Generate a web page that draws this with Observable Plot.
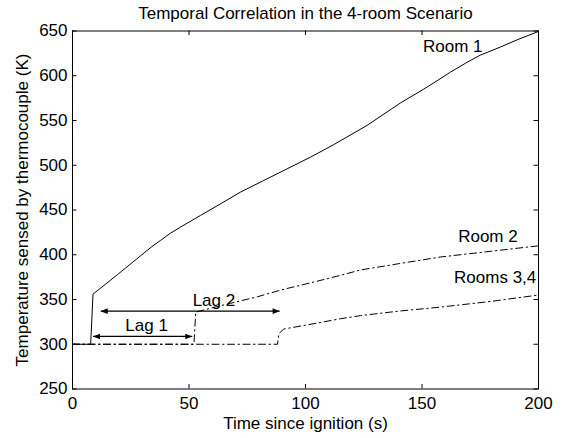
<!DOCTYPE html>
<html><head><meta charset="utf-8">
<script src="https://cdn.jsdelivr.net/npm/d3@7"></script>
<script src="https://cdn.jsdelivr.net/npm/@observablehq/plot@0.6"></script>
<style>html,body{margin:0;padding:0;background:#fff;} svg{display:block;}</style>
</head><body><div id="chart"></div>
<script>
const titleText = "Temporal Correlation in the 4-room Scenario";
const xLabel = "Time since ignition (s)";
const yLabel = "Temperature sensed by thermocouple (K)";
const xTicks = [0, 50, 100, 150, 200];
const yTicks = [250, 300, 350, 400, 450, 500, 550, 600, 650];

const room1Time = [0, 7.8, 8.8, 19.3, 29.3, 34, 37.8, 42, 46.4, 55, 63.6, 72.1, 82.1, 92.1, 102.1, 112.1, 126.4, 140.7, 150.7, 155, 162.2, 169.3, 175, 183.6, 190.7, 200];
const room1Temp = [300, 300, 356, 377.8, 399, 409, 416, 424, 431, 444, 457, 470, 483, 496, 509, 523, 544.5, 569.5, 585, 592, 604, 615, 623, 632, 640, 649.5];

const room2Time = [0, 52.1, 52.9, 65, 79.3, 90, 103.6, 115, 123.6, 140, 158, 180, 200];
const room2Temp = [300, 300, 336, 344, 353, 361, 369.5, 377, 383, 390, 397.5, 404, 410];

const room34Time = [0, 88, 88.6, 90.7, 103.6, 115, 123.6, 140, 158, 180, 200];
const room34Temp = [300, 300, 312, 317, 323, 328.5, 332, 337, 341.5, 348, 355];

const roomLabels = ["Room 1", "Room 2", "Rooms 3,4"];
const roomLabelTime = [163.2, 178.3, 181.4];
const roomLabelTemp = [633, 420.6, 374];

const lagLabels = ["Lag 1", "Lag 2"];
const lagStart = [8.8, 12.1];
const lagEnd = [51.4, 88.9];
const lagLevel = [308.7, 337];
const lagLabelTime = [31.8, 60.7];
const lagLabelTemp = [321, 349];

const W = 563, H = 438, mL = 72, mR = 25, mT = 30.5, mB = 49.5;
const fw = W - mL - mR, fh = H - mT - mB, tick = 4.5;
const font = 17;
const dashDot = "7,3.5,1.5,3.5";

const rows = (ts, vs) => ts.map((t, i) => ({t, v: vs[i]}));
const room1 = rows(room1Time, room1Temp);
const room2 = rows(room2Time, room2Temp);
const room34 = rows(room34Time, room34Temp);
const roomText = roomLabels.map((s, i) => ({s, t: roomLabelTime[i], v: roomLabelTemp[i]}));
const lags = lagLabels.map((s, i) => ({s, a: lagStart[i], b: lagEnd[i], v: lagLevel[i], lt: lagLabelTime[i], lv: lagLabelTemp[i]}));

const triRight = {draw(ctx) { ctx.moveTo(0, 0); ctx.lineTo(-7, -2.8); ctx.lineTo(-7, 2.8); ctx.closePath(); }};
const triLeft = {draw(ctx) { ctx.moveTo(0, 0); ctx.lineTo(7, -2.8); ctx.lineTo(7, 2.8); ctx.closePath(); }};

const chart = Plot.plot({
  width: W, height: H,
  marginLeft: mL, marginRight: mR, marginTop: mT, marginBottom: mB,
  x: {domain: [0, 200], axis: null},
  y: {domain: [250, 650], axis: null},
  style: {fontFamily: "'Liberation Sans', Arial, Helvetica, sans-serif", fontSize: font + "px", background: "white", color: "black"},
  marks: [
    Plot.frame({stroke: "black", strokeWidth: 1}),
    Plot.tickX(xTicks, {x: d => d, stroke: "black", insetTop: fh - tick}),
    Plot.tickX(xTicks, {x: d => d, stroke: "black", insetBottom: fh - tick}),
    Plot.tickY(yTicks, {y: d => d, stroke: "black", insetRight: fw - tick}),
    Plot.tickY(yTicks, {y: d => d, stroke: "black", insetLeft: fw - tick}),
    Plot.text(xTicks, {x: d => d, text: d => String(d), frameAnchor: "bottom", dy: 14.5, lineAnchor: "middle", fontSize: font, fill: "black"}),
    Plot.text(yTicks, {y: d => d, text: d => String(d), frameAnchor: "left", textAnchor: "end", dx: -5, lineAnchor: "middle", fontSize: font, fill: "black"}),
    Plot.text([xLabel], {text: d => d, frameAnchor: "bottom", dy: 34.5, lineAnchor: "middle", fontSize: font, fill: "black"}),
    Plot.text([yLabel], {text: d => d, frameAnchor: "left", textAnchor: "middle", dx: -50, rotate: -90, lineAnchor: "middle", fontSize: font, fill: "black"}),
    Plot.text([titleText], {text: d => d, frameAnchor: "top", dy: -17.5, lineAnchor: "middle", fontSize: font, fill: "black"}),
    Plot.line(room34, {x: "t", y: "v", stroke: "black", strokeWidth: 1, strokeDasharray: dashDot}),
    Plot.line(room2, {x: "t", y: "v", stroke: "black", strokeWidth: 1, strokeDasharray: dashDot}),
    Plot.line(room1, {x: "t", y: "v", stroke: "black", strokeWidth: 1}),
    Plot.link(lags, {x1: "a", x2: "b", y1: "v", y2: "v", stroke: "black", strokeWidth: 1.2}),
    Plot.dot(lags, {x: "b", y: "v", symbol: triRight, fill: "black", stroke: "none"}),
    Plot.dot(lags, {x: "a", y: "v", symbol: triLeft, fill: "black", stroke: "none"}),
    Plot.text(lags, {x: "lt", y: "lv", text: "s", fontSize: font, fill: "black", lineAnchor: "middle"}),
    Plot.text(roomText, {x: "t", y: "v", text: "s", fontSize: font, fill: "black", lineAnchor: "middle"})
  ]
});
document.getElementById("chart").appendChild(chart);
</script>
</body></html>
